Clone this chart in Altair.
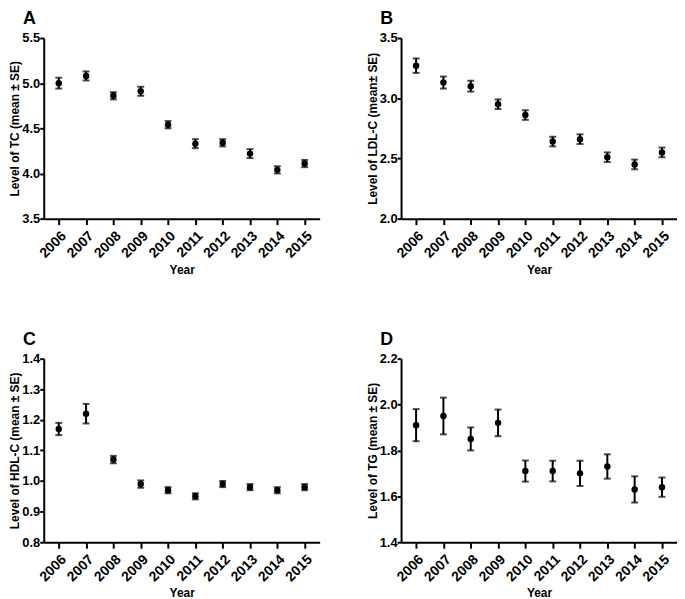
import altair as alt
import pandas as pd

years = [2006, 2007, 2008, 2009, 2010, 2011, 2012, 2013, 2014, 2015]

tc_mean = [5.00, 5.08, 4.86, 4.91, 4.54, 4.33, 4.34, 4.22, 4.04, 4.11]
tc_se = [0.06, 0.05, 0.04, 0.05, 0.04, 0.05, 0.04, 0.05, 0.04, 0.04]

ldl_mean = [3.27, 3.13, 3.10, 2.95, 2.86, 2.64, 2.66, 2.51, 2.45, 2.55]
ldl_se = [0.06, 0.05, 0.045, 0.04, 0.04, 0.04, 0.04, 0.04, 0.04, 0.04]

hdl_mean = [1.17, 1.22, 1.07, 0.99, 0.97, 0.95, 0.99, 0.98, 0.97, 0.98]
hdl_se = [0.02, 0.032, 0.012, 0.012, 0.01, 0.01, 0.01, 0.01, 0.01, 0.01]

tg_mean = [1.91, 1.95, 1.85, 1.92, 1.71, 1.71, 1.70, 1.73, 1.63, 1.64]
tg_se = [0.07, 0.08, 0.05, 0.058, 0.046, 0.045, 0.055, 0.053, 0.057, 0.042]

FONT = "Liberation Sans"


def panel(letter, mean, se, ytitle, domain, ticks, h):
    df = pd.DataFrame({
        "year": years,
        "mean": mean,
        "lo": [m - s for m, s in zip(mean, se)],
        "hi": [m + s for m, s in zip(mean, se)],
    })
    base = alt.Chart(df)
    x = alt.X(
        "year:O",
        scale=alt.Scale(type="point", padding=0.55),
        axis=alt.Axis(title="Year", labelAngle=-45, titlePadding=4),
    )
    yscale = alt.Scale(domain=domain, nice=False, zero=False)
    yaxis = alt.Axis(values=ticks, format=".1f", titlePadding=0, labelPadding=0)

    def y(field):
        return alt.Y(field, scale=yscale, axis=yaxis, title=ytitle)

    rule = base.mark_rule(color="black", strokeWidth=2).encode(
        x=x, y=y("lo:Q"), y2="hi:Q"
    )
    caps = base.transform_fold(["lo", "hi"], as_=["k", "v"]).mark_tick(
        color="black", orient="horizontal", size=7, thickness=2
    ).encode(x=x, y=y("v:Q"))
    pts = base.mark_circle(color="black", size=42, opacity=1).encode(
        x=x, y=y("mean:Q")
    )
    return alt.layer(rule, caps, pts).properties(
        width=278,
        height=h,
        title=alt.TitleParams(
            letter, anchor="start", frame="group", dx=-21, fontSize=18,
            fontWeight="bold", font=FONT, color="black", offset=4,
        ),
    )


a = panel("A", tc_mean, tc_se, "Level of TC (mean ± SE)", [3.5, 5.5], [3.5, 4.0, 4.5, 5.0, 5.5], 182)
b = panel("B", ldl_mean, ldl_se, "Level of LDL-C (mean± SE)", [2.0, 3.5], [2.0, 2.5, 3.0, 3.5], 182)
c = panel("C", hdl_mean, hdl_se, "Level of HDL-C (mean ± SE)", [0.8, 1.4], [0.8, 0.9, 1.0, 1.1, 1.2, 1.3, 1.4], 185)
d = panel("D", tg_mean, tg_se, "Level of TG (mean ± SE)", [1.4, 2.2], [1.4, 1.6, 1.8, 2.0, 2.2], 185)

chart = alt.vconcat(
    alt.hconcat(a, b, spacing=46),
    alt.hconcat(c, d, spacing=46),
    spacing=56,
).properties(
    padding={"left": 0, "top": 0, "right": 0, "bottom": 0}
).configure_view(stroke=None).configure_axis(
    domainColor="black", domainWidth=2, tickColor="black", tickWidth=2,
    labelColor="black", titleColor="black", labelFont=FONT, titleFont=FONT,
    labelFontWeight="bold", titleFontWeight="bold", labelFontSize=13, titleFontSize=12,
    grid=False,
).configure_axisX(tickSize=6, labelPadding=4, labelFontSize=14).configure_axisY(tickSize=4)

chart.save("out.html", embed_options={"renderer": "svg", "actions": False})
